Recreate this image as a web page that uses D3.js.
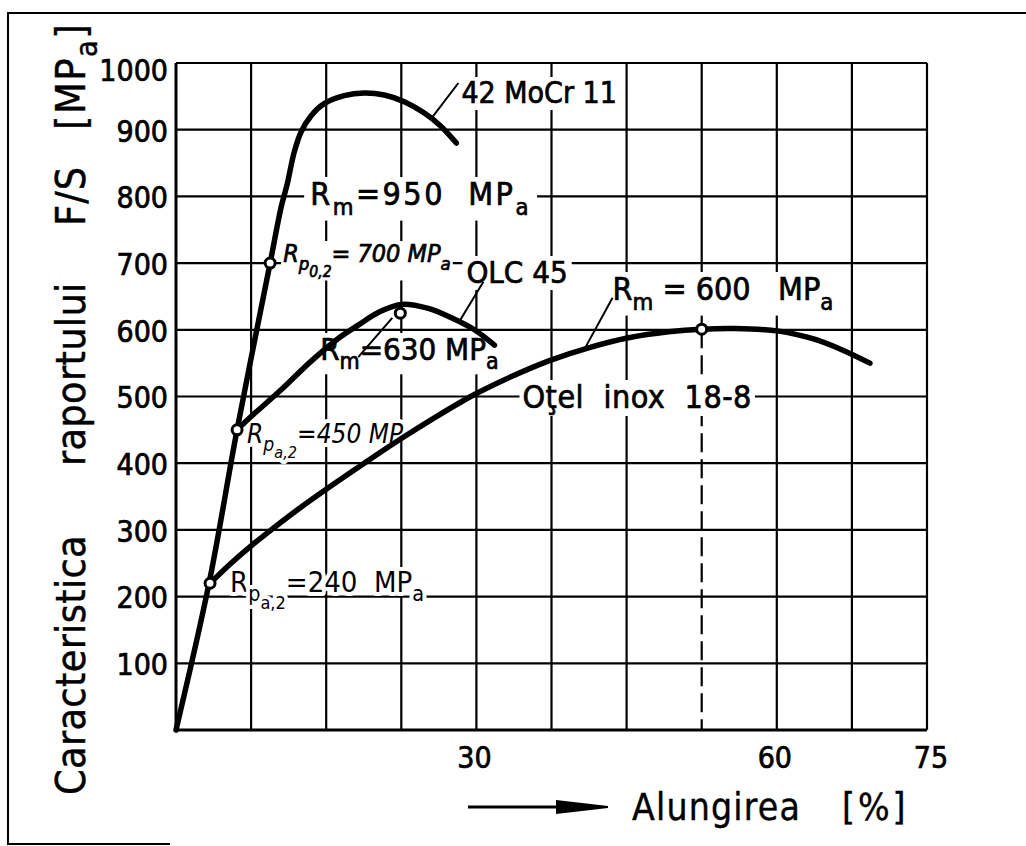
<!DOCTYPE html>
<html>
<head>
<meta charset="utf-8">
<script src="https://cdn.jsdelivr.net/npm/d3@7/dist/d3.min.js"></script>
<style>
  body { margin: 0; background: #fff; }
  text { font-family: "DejaVu Sans Condensed", "DejaVu Sans", sans-serif; fill: #000; white-space: pre; }
</style>
</head>
<body>
<div id="chart"></div>
<script>
// grid and tick values
const xGrid = [7.5, 15, 22.5, 30, 37.5, 45, 52.5, 60, 67.5, 75];
const yGrid = [100, 200, 300, 400, 500, 600, 700, 800, 900, 1000];
const xTickLabels = [30, 60, 75];
const yTickLabels = [100, 200, 300, 400, 500, 600, 700, 800, 900, 1000];

// curves: [alungire %, F/S MPa]
const moCr11 = [[0, 0], [3.3, 220], [6.1, 450], [9.4, 700], [10.5, 784], [11.1, 818], [11.8, 866],
  [12.5, 897], [13.5, 921], [14.8, 939], [16.8, 951], [18.8, 955], [20.8, 952], [22.8, 942],
  [24.8, 925], [26.4, 906], [28, 880]];
const olc45 = [[6.1, 450], [7.8, 474], [10.5, 510], [13.5, 553], [16.2, 587], [18.2, 607],
  [20.2, 626], [22.5, 638], [25.2, 632], [27.5, 618], [29.8, 600], [31.8, 577]];
const inox188 = [[3.4, 220], [5.2, 246], [7.5, 276], [9.5, 300], [12.2, 331], [15, 361], [18.8, 400],
  [22.5, 437], [25.8, 468], [29.8, 503], [33.5, 530], [37.5, 555], [41.2, 573], [45.2, 588],
  [49.2, 597], [52.5, 601], [55.8, 602], [60.2, 598], [63.5, 587], [66.2, 572], [69.3, 550]];

// marked points (Rp0,2 and Rm)
const markPoints = [[3.4, 220], [6.1, 450], [9.4, 700], [22.4, 625], [52.5, 601]];

// leader lines from labels to curves
const leaders = [
  [[28.2, 970], [25.6, 919]],
  [[30.7, 672], [28.4, 615]],
  [[21.6, 618], [18.2, 559]],
  [[43.6, 648], [40.9, 574]]
];

const width = 1026, height = 846;
const svg = d3.select("#chart").append("svg")
  .attr("width", width)
  .attr("height", height);

const x = d3.scaleLinear().domain([0, 75]).range([176, 927]);
const y = d3.scaleLinear().domain([0, 1000]).range([730, 63]);

// outer frame (open on the right)
svg.append("path")
  .attr("d", "M1026,13 L8,13 L8,844 L170,844")
  .attr("fill", "none")
  .attr("stroke", "#000")
  .attr("stroke-width", 2);

// grid
const grid = svg.append("g").attr("stroke", "#000").attr("stroke-width", 2.2);
grid.selectAll(".h").data(yGrid).enter().append("line")
  .attr("x1", x(0)).attr("x2", x(75))
  .attr("y1", d => y(d)).attr("y2", d => y(d));
grid.selectAll(".v").data(xGrid.filter(d => d !== 52.5)).enter().append("line")
  .attr("x1", d => x(d)).attr("x2", d => x(d))
  .attr("y1", y(0)).attr("y2", y(1000));
// the 52.5 line is dashed below Rm of the inox steel
grid.append("line")
  .attr("x1", x(52.5)).attr("x2", x(52.5))
  .attr("y1", y(1000)).attr("y2", y(601));
grid.append("line")
  .attr("x1", x(52.5)).attr("x2", x(52.5))
  .attr("y1", y(601)).attr("y2", y(0))
  .attr("stroke-dasharray", "19,7");
// axes
svg.append("path")
  .attr("d", `M${x(0)},${y(1000)} L${x(0)},${y(0)} L${x(75)},${y(0)}`)
  .attr("fill", "none").attr("stroke", "#000").attr("stroke-width", 3);

// tick labels
svg.append("g").selectAll("text").data(yTickLabels).enter().append("text")
  .attr("x", 168)
  .attr("y", d => y(d) + (d === 1000 ? 7 : 1))
  .attr("dy", "0.36em")
  .attr("text-anchor", "end")
  .attr("stroke", "#000").attr("stroke-width", 0.7)
  .style("font-size", "30px")
  .text(d => d);

svg.append("g").selectAll("text").data(xTickLabels).enter().append("text")
  .attr("x", d => x(d) + (d === 75 ? 4 : -2))
  .attr("y", 768)
  .attr("text-anchor", "middle")
  .attr("stroke", "#000").attr("stroke-width", 0.7)
  .style("font-size", "30px")
  .text(d => d);

// rich text helper: parts with sub levels
function rich(g, parts, px, py, size, opts = {}) {
  const t = g.append("text")
    .attr("x", px).attr("y", py)
    .style("font-size", size + "px")
    .style("font-style", opts.italic ? "italic" : "normal");
  if (opts.halo) {
    t.attr("stroke", "#fff").attr("stroke-width", opts.halo)
      .attr("stroke-linejoin", "round").attr("paint-order", "stroke");
  } else {
    t.attr("stroke", "#000").attr("stroke-width", opts.weight || 0.7);
  }
  if (opts.transform) t.attr("transform", opts.transform);
  if (opts.spacing) t.style("letter-spacing", opts.spacing + "px");
  const offs = [0, 0.3, 0.58];
  const scl = [1, 0.74, 0.62];
  let level = 0;
  parts.forEach(p => {
    const lv = p.sub || 0;
    const dy = (offs[lv] - offs[level]) * size;
    t.append("tspan")
      .attr("dy", dy)
      .style("font-size", (size * scl[lv]) + "px")
      .text(p.t);
    level = lv;
  });
  if (opts.box) {
    const bb = t.node().getBBox();
    const p = opts.box;
    g.insert("rect", () => t.node())
      .attr("x", bb.x - p).attr("y", bb.y + 2)
      .attr("width", bb.width + 2 * p).attr("height", bb.height - 2)
      .attr("fill", "#fff");
  }
  return t;
}

const labels = svg.append("g");
rich(labels, [{ t: "42 MoCr 11" }], x(28.5), 103, 30, { box: 3 });
rich(labels, [{ t: "R" }, { t: "m", sub: 1 }, { t: "=950  MP" }, { t: "a", sub: 1 }], x(13.4), 205, 32, { box: 6, spacing: 2.5 });
rich(labels, [{ t: "R" }, { t: "p", sub: 1 }, { t: "0,2", sub: 2 }, { t: "= 700 MP" }, { t: "a", sub: 1 }], x(10.7), 262, 25, { box: 2, italic: true });
rich(labels, [{ t: "OLC 45" }], x(29), 283, 31, { box: 4 });
rich(labels, [{ t: "R" }, { t: "m", sub: 1 }, { t: "=630 MP" }, { t: "a", sub: 1 }], x(14.4), 360, 31, { box: 3 });
rich(labels, [{ t: "R" }, { t: "p", sub: 1 }, { t: "a,2", sub: 2 }, { t: "=450 MP" }], x(7.1), 443, 26, { halo: 8, italic: true });
rich(labels, [{ t: "R" }, { t: "p", sub: 1 }, { t: "a,2", sub: 2 }, { t: "=240  MP" }, { t: "a", sub: 1 }], x(5.4), 592, 29, { halo: 8 });
rich(labels, [{ t: "R" }, { t: "m", sub: 1 }, { t: " = 600   MP" }, { t: "a", sub: 1 }], x(43.6), 300, 32, { box: 4 });
rich(labels, [{ t: "Oţel  inox  18-8" }], x(34.6), 408, 32, { box: 3, spacing: 0.5 });

// axis titles (rotated words placed along the left margin)
const rot = (yy) => `translate(85,${yy}) rotate(-90)`;
rich(svg, [{ t: "Caracteristica" }], 0, 0, 41, { transform: rot(795), spacing: 0.3, weight: 0.4 });
rich(svg, [{ t: "raportului" }], 0, 0, 41, { transform: rot(466), spacing: 0.3, weight: 0.4 });
rich(svg, [{ t: "F/S" }], 0, 0, 41, { transform: rot(226), spacing: 1, weight: 0.4 });
rich(svg, [{ t: "[MP" }, { t: "a", sub: 1 }, { t: "]" }], 0, 0, 41, { transform: rot(130), spacing: 1.5, weight: 0.4 });
rich(svg, [{ t: "Alungirea" }], 632, 820, 37, { spacing: 1.2, weight: 0.4 });
rich(svg, [{ t: "[%]" }], 842, 820, 37, { spacing: 3, weight: 0.4 });
svg.append("line")
  .attr("x1", 468).attr("x2", 565).attr("y1", 807).attr("y2", 807)
  .attr("stroke", "#000").attr("stroke-width", 3);
svg.append("path")
  .attr("d", "M556,800 L608,806 L608,808 L556,814 Z")
  .attr("fill", "#000");

// curves
const line = d3.line()
  .x(d => x(d[0]))
  .y(d => y(d[1]))
  .curve(d3.curveCatmullRom.alpha(0.5));

[moCr11, olc45, inox188].forEach(series => {
  svg.append("path")
    .datum(series)
    .attr("d", line)
    .attr("fill", "none")
    .attr("stroke", "#000")
    .attr("stroke-width", 5.5)
    .attr("stroke-linecap", "round")
    .attr("stroke-linejoin", "round");
});

leaders.forEach(l => {
  svg.append("line")
    .attr("x1", x(l[0][0])).attr("y1", y(l[0][1]))
    .attr("x2", x(l[1][0])).attr("y2", y(l[1][1]))
    .attr("stroke", "#000").attr("stroke-width", 2);
});

svg.selectAll(".pt").data(markPoints).enter().append("circle")
  .attr("cx", d => x(d[0]))
  .attr("cy", d => y(d[1]))
  .attr("r", 5)
  .attr("fill", "#fff")
  .attr("stroke", "#000")
  .attr("stroke-width", 3);
</script>
</body>
</html>
